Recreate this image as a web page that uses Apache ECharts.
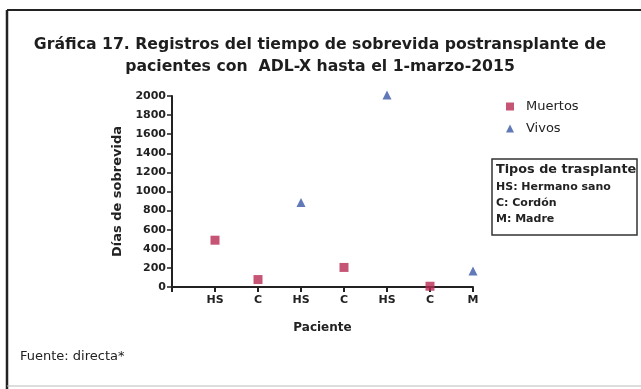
<!DOCTYPE html>
<html>
<head>
<meta charset="utf-8">
<script src="https://cdn.jsdelivr.net/npm/echarts@6/dist/echarts.min.js"></script>
<style>
  html, body { margin: 0; padding: 0; background: #ffffff; }
  #chart { width: 641px; height: 389px; }
</style>
</head>
<body>
<div id="chart"></div>
<script>
// Transplant type of each patient, in order along the x axis
const patients = ['HS', 'C', 'HS', 'C', 'HS', 'C', 'M'];
// Survival days after transplant (null where the patient is in the other group)
const muertos = [490, 78, null, 205, null, 8, null];
const vivos = [null, null, 885, null, 2010, null, 168];
const yTicks = { min: 0, max: 2000, interval: 200 };

const FONT = '"DejaVu Sans", "Liberation Sans", Arial, sans-serif';
// A leading blank slot keeps the first patient one step right of the y axis
const axisCats = [''].concat(patients);
const toPoints = arr => arr.map((v, i) => [i + 1, v]).filter(p => p[1] !== null);

const chart = echarts.init(document.getElementById('chart'), null, { renderer: 'canvas' });
chart.setOption({
  backgroundColor: '#ffffff',
  animation: false,
  title: {
    text: 'Gráfica 17. Registros del tiempo de sobrevida postransplante de\npacientes con  ADL-X hasta el 1-marzo-2015',
    left: 315,
    top: 29,
    textAlign: 'center',
    textStyle: { fontFamily: FONT, fontSize: 15.7, fontWeight: 'bold', color: '#1e1e1e', lineHeight: 22 }
  },
  legend: {
    orient: 'vertical',
    left: 501,
    top: 95,
    itemWidth: 8,
    itemHeight: 8,
    itemGap: 9,
    textStyle: { fontFamily: FONT, fontSize: 13, color: '#222', padding: [0, 0, 0, 7] },
    data: [
      { name: 'Muertos', icon: 'rect' },
      { name: 'Vivos', icon: 'triangle' }
    ]
  },
  grid: { left: 172, right: 168, top: 96, bottom: 102 },
  xAxis: {
    type: 'category',
    data: axisCats,
    boundaryGap: false,
    name: 'Paciente',
    nameLocation: 'middle',
    nameGap: 35,
    nameTextStyle: { fontFamily: FONT, fontSize: 12, fontWeight: 'bold', color: '#222' },
    axisLine: { lineStyle: { color: '#222', width: 2 } },
    axisTick: { show: true, length: 5, lineStyle: { color: '#222', width: 2 } },
    axisLabel: { fontFamily: FONT, fontSize: 11, fontWeight: 'bold', color: '#222', margin: 8 },
    splitLine: { show: false }
  },
  yAxis: {
    type: 'value',
    min: yTicks.min,
    max: yTicks.max,
    interval: yTicks.interval,
    name: 'Días de sobrevida',
    nameLocation: 'middle',
    nameGap: 48,
    nameTextStyle: { fontFamily: FONT, fontSize: 13, fontWeight: 'bold', color: '#222' },
    axisLine: { show: true, lineStyle: { color: '#222', width: 2 } },
    axisTick: { show: true, length: 5, lineStyle: { color: '#222', width: 1.5 } },
    axisLabel: { fontFamily: FONT, fontSize: 11, fontWeight: 'bold', color: '#222', margin: 6, formatter: v => String(v) },
    splitLine: { show: false }
  },
  series: [
    {
      name: 'Muertos',
      type: 'scatter',
      symbol: 'rect',
      symbolSize: 9,
      clip: false,
      itemStyle: { color: '#b82a52' },
      data: toPoints(muertos)
    },
    {
      name: 'Vivos',
      type: 'scatter',
      symbol: 'triangle',
      symbolSize: 9,
      clip: false,
      itemStyle: { color: '#3a58a6' },
      data: toPoints(vivos)
    }
  ],
  graphic: [
    // frame lines of the figure panel
    { type: 'line', shape: { x1: 7, y1: 10, x2: 641, y2: 10 }, style: { stroke: '#222', lineWidth: 2 } },
    { type: 'line', shape: { x1: 7, y1: 10, x2: 7, y2: 389 }, style: { stroke: '#222', lineWidth: 2.5 } },
    { type: 'line', shape: { x1: 7, y1: 386, x2: 641, y2: 386 }, style: { stroke: '#bbb', lineWidth: 1 } },
    // transplant type key
    { type: 'rect', shape: { x: 492, y: 159, width: 145, height: 76 }, style: { fill: '#fff', stroke: '#333', lineWidth: 1.5 } },
    { type: 'text', left: 496, top: 163, style: { text: 'Tipos de trasplante', font: 'bold 12.8px ' + FONT, fill: '#222' } },
    { type: 'text', left: 496, top: 182, style: { text: 'HS: Hermano sano', font: 'bold 11px ' + FONT, fill: '#222' } },
    { type: 'text', left: 496, top: 198, style: { text: 'C: Cordón', font: 'bold 11px ' + FONT, fill: '#222' } },
    { type: 'text', left: 496, top: 214, style: { text: 'M: Madre', font: 'bold 11px ' + FONT, fill: '#222' } },
    // source note
    { type: 'text', left: 20, top: 350, style: { text: 'Fuente: directa*', font: '13px ' + FONT, fill: '#222' } }
  ]
});
</script>
</body>
</html>
